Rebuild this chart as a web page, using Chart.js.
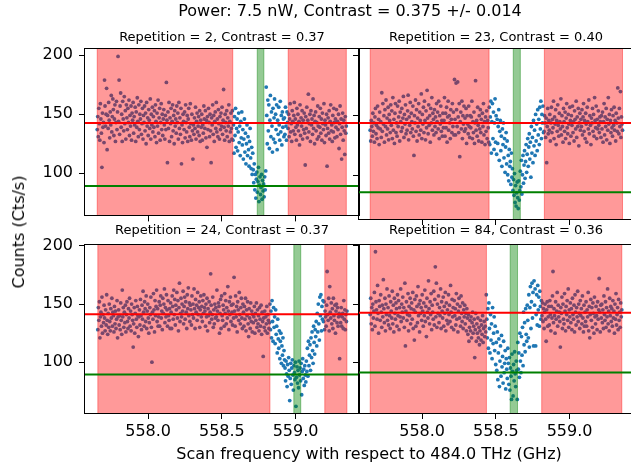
<!DOCTYPE html>
<html>
<head>
<meta charset="utf-8">
<script src="https://cdn.jsdelivr.net/npm/chart.js@4.4.1/dist/chart.umd.min.js"></script>
<style>
html,body{margin:0;padding:0;background:#fff;width:631px;height:472px;overflow:hidden;}
canvas{position:absolute;}
.t{position:absolute;white-space:nowrap;color:#000;font-family:"DejaVu Sans";line-height:1;z-index:5;}
</style>
</head>
<body>
<div id="root"></div>
<script>
// ---------- data ----------
const xTicks = [558.0, 558.5, 559.0];
const yTicks = [100, 150, 200];
const xRange = [557.572, 559.43];
const yRangeTop = [64.3, 205.3];
const yRangeBottom = [56.3, 200.8];

const supTitle = 'Power: 7.5 nW, Contrast = 0.375 +/- 0.014';
const xLabel = 'Scan frequency with respect to 484.0 THz (GHz)';
const yLabel = 'Counts (Cts/s)';
const panelTitles = ['Repetition = 2, Contrast = 0.37', 'Repetition = 23, Contrast = 0.40',
                     'Repetition = 24, Contrast = 0.37', 'Repetition = 84, Contrast = 0.36'];

const scanStart = [557.655, 557.648, 557.659, 557.648];
const scanStop  = [559.344, 559.359, 559.348, 559.354];

const redSpans = [
  [[557.655, 558.574], [558.950, 559.344]],
  [[557.648, 558.454], [558.829, 559.359]],
  [[557.659, 558.826], [559.198, 559.348]],
  [[557.648, 558.436], [558.811, 559.354]]
];
const greenSpans = [[558.740, 558.785], [558.618, 558.666], [558.988, 559.035], [558.597, 558.647]];
const offLevels = [142.5, 144.0, 141.3, 142.5];
const dipLevels = [89.2, 86.5, 89.5, 91.1];

const counts1 = [
137,148,131,155,142,128,159,146,134,105,151,139,143,126,179,157,140,150,172,120,
149,138,160,145,130,152,141,166,135,148,163,154,132,146,158,127,143,161,137,152,
199,144,179,133,157,168,139,150,127,161,146,136,165,142,153,129,158,147,137,155,
143,162,132,149,140,157,128,151,145,160,134,148,141,156,127,152,139,164,144,131,
158,137,150,146,161,133,142,155,129,149,143,157,136,151,125,160,140,147,132,154,
145,138,163,129,150,141,156,135,148,139,153,131,158,144,126,151,140,162,134,147,
155,128,143,159,137,150,132,146,154,141,129,149,137,177,145,109,152,138,160,127,
147,142,155,131,144,158,136,149,125,153,140,146,134,157,143,151,129,160,138,147,
133,155,108,141,126,150,144,137,152,130,158,143,135,149,127,146,155,139,131,159,
142,128,150,136,112,141,133,147,138,156,129,144,151,135,140,148,132,153,127,145,
139,150,128,141,134,157,146,138,153,130,145,122,148,137,155,143,131,150,136,109,
147,141,158,133,149,127,144,152,138,160,135,146,131,154,142,129,148,137,151,140,
156,133,145,171,139,128,150,143,136,153,131,147,140,158,127,144,135,151,138,129,
153,128,141,117,148,132,155,122,138,146,119,135,151,126,140,115,144,130,152,124,
137,112,129,146,118,134,108,125,141,115,131,120,106,127,138,113,104,122,99,117,
103,92,108,86,99,79,95,101,84,93,105,76,90,97,82,88,99,78,94,85,
91,80,97,86,102,173,149,125,162,136,158,121,145,166,131,152,140,118,155,129,
147,163,126,150,137,158,120,145,133,156,141,128,161,135,149,124,152,139,146,131,
147,133,156,140,128,152,143,138,150,131,146,159,135,142,127,153,144,136,149,160,
133,146,139,128,155,141,150,136,144,124,158,132,147,140,153,129,145,137,151,134,
107,148,138,156,130,145,167,135,142,150,127,153,141,146,133,163,138,149,125,144,
152,136,143,129,157,140,131,148,139,155,134,146,128,151,142,137,159,126,145,141,
132,150,106,138,147,134,153,129,144,158,136,141,127,149,135,155,143,130,146,139,
154,131,144,137,150,121,142,157,133,146,112,139,151,128,145,136,116,148,134,140
];
const counts23 = [
138,129,146,141,133,152,137,144,128,149,156,135,142,131,158,140,147,126,153,139,
145,132,169,137,160,143,150,128,155,141,163,134,148,139,157,130,151,146,136,159,
142,154,131,165,138,147,127,152,160,136,144,133,158,141,149,162,129,153,145,137,
156,140,148,166,132,151,143,159,135,147,138,154,167,130,149,142,161,136,152,145,
139,158,133,117,150,144,163,137,155,129,148,141,160,134,153,146,138,168,131,151,
143,157,136,162,146,130,154,140,171,148,135,159,142,150,128,156,144,165,138,152,
147,134,155,141,149,136,160,145,153,139,162,131,150,143,158,137,146,133,152,140,
146,165,133,152,140,157,128,149,162,138,150,144,131,155,147,136,160,141,153,134,
180,147,134,177,155,141,178,149,136,160,116,145,153,139,162,131,150,143,158,137,
148,139,156,127,150,143,135,158,141,132,150,140,149,162,131,145,136,153,127,144,
179,138,146,133,157,142,129,150,139,155,136,147,128,152,141,160,134,145,126,149,
137,154,131,146,140,128,157,126,149,162,119,145,160,131,153,122,144,164,128,150,
118,147,127,141,155,113,137,146,121,133,108,139,126,144,115,131,103,124,136,110,
129,101,117,96,122,108,112,93,119,99,106,88,97,84,102,78,92,75,86,95,
82,73,96,80,88,104,91,113,85,101,117,94,109,121,98,112,126,103,118,131,
108,124,135,114,128,99,141,119,132,111,146,125,138,117,151,129,143,121,155,134,
147,126,157,139,162,131,151,144,158,136,137,150,144,132,148,111,141,156,135,146,
138,151,129,144,157,136,147,140,162,131,149,143,155,126,146,137,159,142,133,152,
145,139,164,134,150,141,128,156,145,137,153,131,148,160,140,135,151,143,127,157,
146,133,150,142,158,136,145,129,154,147,139,162,132,149,141,156,125,144,152,138,
147,141,155,134,149,160,137,146,131,152,143,128,157,145,139,163,135,150,142,126,
148,144,156,137,151,133,165,146,140,158,131,147,139,154,142,136,149,145,132,150,
139,153,128,145,160,134,149,141,156,130,147,138,165,143,151,127,146,136,155,140,
133,150,142,157,138,146,129,152,144,137,173,148,135,156,141,170,132,149,143,138
];
const counts24 = [
128,147,136,152,121,139,143,131,156,125,141,134,149,138,127,145,132,158,136,124,
142,130,150,135,127,146,138,155,131,143,140,126,148,133,144,129,137,153,121,139,
145,132,140,128,151,136,124,162,139,147,130,143,134,149,126,141,152,135,129,146,
138,155,131,144,127,150,141,136,113,133,147,125,142,153,137,130,148,140,122,139,
145,132,154,140,128,149,137,161,143,131,152,146,135,157,129,144,150,138,125,134,
147,141,156,130,100,143,137,159,145,126,153,140,148,162,135,146,131,139,152,131,
149,157,138,144,128,155,142,150,163,134,147,139,158,145,131,153,140,136,146,129,
151,143,129,157,148,137,162,141,154,132,149,145,160,138,153,127,147,168,135,142,
155,139,150,144,161,133,148,156,137,152,143,129,158,146,164,140,151,135,149,145,
132,157,141,150,138,163,146,129,154,143,149,136,160,141,147,152,130,145,157,139,
148,135,153,142,158,147,144,131,150,139,155,127,146,140,152,134,143,176,149,137,
141,156,130,145,133,150,138,147,139,162,144,136,151,148,125,142,154,129,157,140,
136,149,145,131,159,142,153,133,147,138,165,144,128,152,141,156,135,149,143,132,
150,138,173,144,131,157,139,148,126,152,145,136,160,141,133,147,155,138,129,150,
143,131,148,137,155,127,145,140,152,133,122,146,138,129,151,135,144,126,141,134,
139,148,125,142,136,151,130,145,133,140,127,147,137,131,149,124,143,135,105,138,
130,144,127,139,133,148,125,141,136,129,134,150,128,144,121,153,135,118,147,130,
139,116,145,124,131,108,137,120,112,127,103,118,125,99,114,106,121,97,110,102,
95,84,101,90,79,98,88,104,93,67,86,99,81,95,102,89,76,97,91,85,
100,62,87,96,82,93,78,101,89,95,84,99,72,92,103,86,94,80,97,89,
83,101,92,112,88,118,97,106,115,93,121,104,126,110,99,131,117,107,128,122,
135,114,142,126,150,133,119,156,140,158,127,148,137,153,135,152,128,144,139,131,
149,178,141,136,155,127,165,143,138,151,133,146,129,155,140,136,149,125,144,150,
134,147,131,139,142,103,140,134,147,131,139,142,129,153,137,145,128,141,135,144
];
const counts84 = [
141,155,133,147,128,150,138,144,160,131,195,152,145,137,166,142,125,153,148,136,
158,143,130,149,139,171,146,134,155,127,150,141,163,136,147,132,157,140,129,152,
144,138,161,133,149,126,155,142,137,151,146,131,158,140,153,128,147,139,163,135,
150,143,156,138,147,130,168,114,144,152,136,141,159,127,148,140,155,133,146,151,
137,160,129,145,119,154,143,131,157,148,134,165,140,150,126,153,142,147,136,158,
144,131,151,140,162,135,148,122,155,143,138,170,146,133,152,141,159,128,149,143,
137,161,132,154,182,139,168,130,150,142,157,134,147,140,163,129,152,144,138,156,
131,148,142,160,127,151,136,145,133,158,141,149,135,166,143,130,154,139,147,128,
153,140,146,132,159,137,150,126,144,155,138,148,131,157,142,135,151,129,145,139,
149,133,142,127,146,138,124,141,118,130,136,127,139,121,134,143,125,131,137,104,
128,142,118,133,125,138,121,130,115,127,136,119,132,124,140,117,129,135,122,131,
126,158,137,121,146,112,151,129,108,141,119,133,103,147,116,125,139,110,131,98,
117,93,126,85,108,120,79,101,114,88,123,96,105,82,118,91,99,110,77,103,
94,86,112,99,81,104,76,95,88,68,107,92,71,98,84,109,90,79,101,93,
68,117,94,108,87,125,101,91,122,106,130,97,143,115,134,109,146,124,118,149,
136,121,158,113,147,165,129,152,168,138,160,114,170,149,163,114,141,158,132,166,
145,156,131,161,148,137,153,140,151,135,146,129,143,150,137,118,145,152,131,139,
148,132,153,141,127,148,138,157,178,134,146,140,125,152,137,144,160,131,149,139,
143,135,113,147,142,156,129,150,137,133,159,144,127,148,141,153,136,163,130,145,
139,151,134,146,128,155,141,137,149,126,158,143,132,147,139,161,135,150,142,129,
153,140,146,133,157,138,126,149,131,143,135,152,131,145,139,160,127,148,121,141,
154,136,147,130,151,142,125,156,139,133,148,140,128,152,137,145,172,143,126,149,
138,150,134,145,129,157,141,136,152,130,147,139,163,133,144,127,155,140,148,135,
146,131,153,138,144,125,150,137,159,132,141,147,128,154,136,143,130,151,139,145
];
const panelCounts = [counts1, counts23, counts24, counts84];

// ---------- layout ----------
const FONT = 'DejaVu Sans';
Chart.defaults.font.family = FONT;
const panels = [
  {left: 0,   top: 29,  w: 369, h: 202, yw: 85, xh: 12, showX: false, showY: true,  yr: yRangeTop,    tx: 222, ty: 29.5},
  {left: 349, top: 29,  w: 294, h: 202, yw: 10, xh: 12, showX: false, showY: false, yr: yRangeTop,    tx: 496, ty: 29.5},
  {left: 0,   top: 225, w: 369, h: 228, yw: 85, xh: 40, showX: true,  showY: true,  yr: yRangeBottom, tx: 222, ty: 223},
  {left: 349, top: 225, w: 294, h: 228, yw: 10, xh: 40, showX: true,  showY: false, yr: yRangeBottom, tx: 496, ty: 223}
];

const spanPlugin = {
  id: 'spans',
  afterDatasetDraw(chart, args, opts) {
    if (args.index !== 0) return;
    const {ctx, chartArea: a, scales: {x}} = chart;
    ctx.save();
    ctx.beginPath(); ctx.rect(a.left, a.top, a.right - a.left, a.bottom - a.top); ctx.clip();
    const draw = (s, e, col) => {
      const x1 = x.getPixelForValue(s), x2 = x.getPixelForValue(e);
      ctx.fillStyle = col; ctx.fillRect(x1, a.top, x2 - x1, a.bottom - a.top);
      ctx.strokeStyle = col; ctx.lineWidth = 1;
      ctx.beginPath();
      ctx.moveTo(x1, a.top); ctx.lineTo(x1, a.bottom);
      ctx.moveTo(x2, a.top); ctx.lineTo(x2, a.bottom);
      ctx.stroke();
    };
    opts.red.forEach(([s, e]) => draw(s, e, 'rgba(255,0,0,0.4)'));
    draw(opts.green[0], opts.green[1], 'rgba(0,128,0,0.42)');
    ctx.restore();
  }
};
const framePlugin = {
  id: 'frame',
  afterDraw(chart) {
    const {ctx, chartArea: a} = chart;
    ctx.save();
    ctx.strokeStyle = '#000'; ctx.lineWidth = 1;
    ctx.strokeRect(Math.round(a.left) - 0.5, Math.round(a.top) - 0.5,
                   Math.round(a.right - a.left) + 1, Math.round(a.bottom - a.top) + 1);
    ctx.restore();
  }
};

const root = document.getElementById('root');
panels.forEach((p, k) => {
  const cv = document.createElement('canvas');
  cv.width = p.w; cv.height = p.h;
  cv.style.left = p.left + 'px'; cv.style.top = p.top + 'px';
  cv.style.width = p.w + 'px'; cv.style.height = p.h + 'px';
  root.appendChild(cv);
  const counts = panelCounts[k];
  const n = counts.length;
  const step = (scanStop[k] - scanStart[k]) / (n - 1);
  const pts = counts.map((c, i) => ({x: scanStart[k] + i * step, y: c}));
  new Chart(cv.getContext('2d'), {
    type: 'scatter',
    data: {datasets: [
      {type: 'scatter', data: pts, order: 3, pointRadius: 1.9, pointHoverRadius: 1.9,
       backgroundColor: '#1f77b4', borderWidth: 0, pointBorderWidth: 0},
      {type: 'line', data: [{x: xRange[0], y: offLevels[k]}, {x: xRange[1], y: offLevels[k]}], order: 1,
       borderColor: '#ff0000', borderWidth: 2, pointRadius: 0, fill: false},
      {type: 'line', data: [{x: xRange[0], y: dipLevels[k]}, {x: xRange[1], y: dipLevels[k]}], order: 1,
       borderColor: '#008000', borderWidth: 2, pointRadius: 0, fill: false}
    ]},
    options: {
      responsive: false, animation: false, devicePixelRatio: 1, events: [],
      layout: {padding: {top: 20, right: 10, bottom: 0, left: 0}},
      plugins: {legend: {display: false}, tooltip: {enabled: false},
                spans: {red: redSpans[k], green: greenSpans[k]}},
      scales: {
        x: {type: 'linear', min: xRange[0], max: xRange[1],
            afterBuildTicks: s => { s.ticks = xTicks.map(v => ({value: v})); },
            afterFit: s => { s.height = p.xh; },
            ticks: {display: p.showX, callback: v => Number(v).toFixed(1), color: '#000',
                    font: {size: 16, family: FONT}, padding: 3, maxRotation: 0, autoSkip: false},
            grid: {drawOnChartArea: false, drawTicks: true, tickLength: 6, color: '#000', lineWidth: 1},
            border: {display: false}},
        y: {type: 'linear', min: p.yr[0], max: p.yr[1],
            afterBuildTicks: s => { s.ticks = yTicks.map(v => ({value: v})); },
            afterFit: s => { s.width = p.yw; },
            ticks: {display: p.showY, callback: v => String(v), color: '#000',
                    font: {size: 16, family: FONT}, padding: 6, autoSkip: false},
            grid: {drawOnChartArea: false, drawTicks: true, tickLength: 6, color: '#000', lineWidth: 1},
            border: {display: false}}
      }
    },
    plugins: [spanPlugin, framePlugin]
  });
  const t = document.createElement('div');
  t.className = 't'; t.textContent = panelTitles[k];
  t.style.fontSize = '13px'; t.style.left = p.tx + 'px'; t.style.top = p.ty + 'px';
  t.style.transform = 'translateX(-50%)';
  root.appendChild(t);
});

function addText(txt, css) {
  const d = document.createElement('div');
  d.className = 't'; d.textContent = txt;
  Object.assign(d.style, css);
  root.appendChild(d);
}
addText(supTitle, {fontSize: '16px', left: '350px', top: '3px', transform: 'translateX(-50%)'});
addText(xLabel, {fontSize: '16px', left: '369px', top: '446px', transform: 'translateX(-50%)'});
addText(yLabel, {fontSize: '16px', left: '19px', top: '232px', transform: 'translate(-50%,-50%) rotate(-90deg)'});
</script>
</body>
</html>
